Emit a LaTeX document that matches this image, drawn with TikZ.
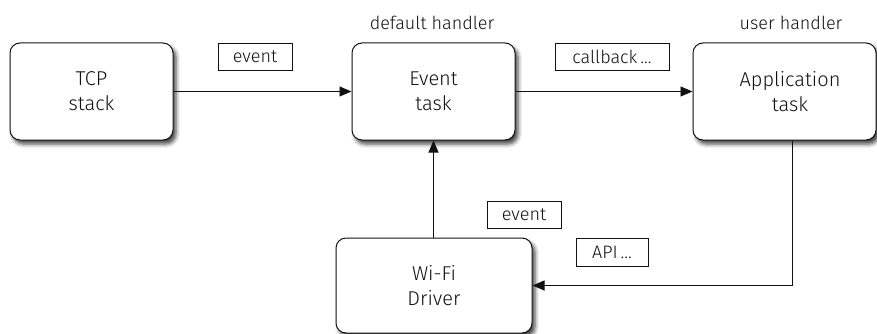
\documentclass[tikz,border=0pt]{standalone}
\usepackage{fontspec}
\setmainfont{Fira Sans}[UprightFont=* Light]
\usetikzlibrary{arrows.meta,shadows.blur}
\definecolor{ink}{HTML}{111111}
\tikzset{
  box/.style={draw=ink, line width=1pt, rounded corners=10pt, fill=white,
    blur shadow={shadow xshift=3pt, shadow yshift=-4pt, shadow blur radius=4pt, shadow opacity=75},
    inner sep=0pt},
  boxtext/.style={align=center, text=ink, font=\fontsize{20}{25}\selectfont},
  tag/.style={draw=ink, line width=0.9pt, fill=white, text=ink, inner sep=0pt,
    minimum height=27pt, font=\fontsize{18}{20}\selectfont},
  note/.style={text=ink, font=\fontsize{18}{20}\selectfont},
  arr/.style={draw=ink, line width=0.9pt, -{Triangle[length=12pt,width=10pt]}}
}
\begin{document}
\begin{tikzpicture}[x=1pt,y=-1pt]
\useasboundingbox (0,0) rectangle (877,334);
\node[box, boxtext, minimum width=163pt, minimum height=97pt] (tcp) at (91.5,91.5) {TCP\\stack};
\node[box, boxtext, minimum width=163pt, minimum height=97pt] (event) at (433.5,91.5) {Event\\task};
\node[box, minimum width=183pt, minimum height=97pt] (app) at (784.5,91.5) {};
\node[boxtext] (apptext) at (790,91.5) {Application\\task};
\node[box, boxtext, minimum width=196pt, minimum height=95pt] (wifi) at (434,285.5) {Wi-Fi\\Driver};
\node[note] (defh) at (432,23) {default handler};
\node[note] (userh) at (791,23) {user handler};
\node[tag, minimum width=74pt] (ev1) at (255,56.5) {event};
\node[tag, minimum width=114pt] (cb) at (612,56.5) {callback\,...};
\node[tag, minimum width=74pt] (ev2) at (524,214.5) {event};
\node[tag, minimum width=72pt, minimum height=28pt] (api) at (612,252) {API\,...};
\draw[arr] (tcp.east) -- (event.west);
\draw[arr] (event.east) -- (app.west);
\draw[arr] (wifi.north -| event.south) -- (event.south);
\draw[arr] ([xshift=7.5pt]app.south) |- (wifi.east);
\end{tikzpicture}
\end{document}
